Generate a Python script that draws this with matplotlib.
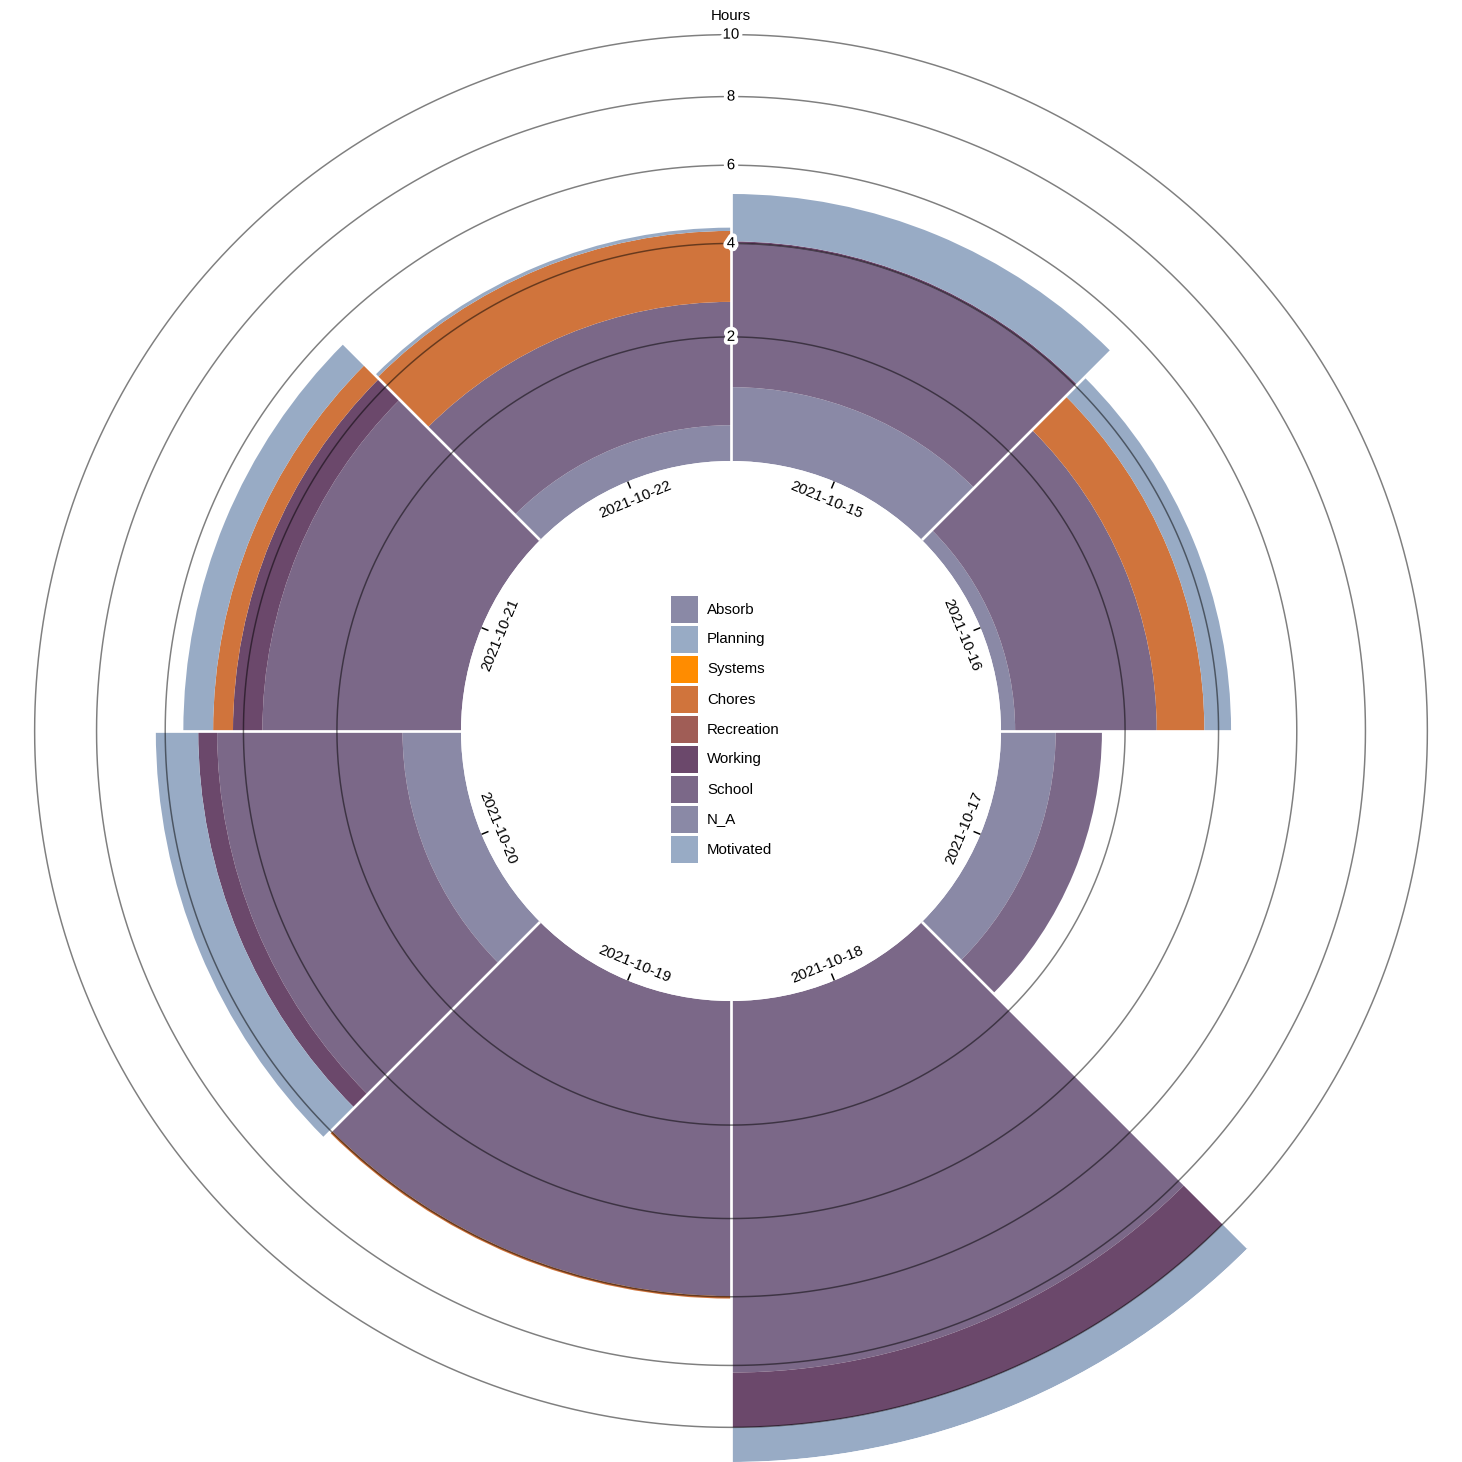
import numpy as np
import matplotlib
matplotlib.use('Agg')
import matplotlib.pyplot as plt
import matplotlib.patheffects as pe
from matplotlib.patches import Rectangle

plt.rcParams['font.family'] = ['Liberation Sans', 'DejaVu Sans']

# Datos: horas por dia, capas apiladas desde el centro hacia afuera
dias = ['2021-10-15', '2021-10-16', '2021-10-17', '2021-10-18',
        '2021-10-19', '2021-10-20', '2021-10-21', '2021-10-22']
claves = ['Motivated', 'N_A', 'School', 'Working', 'Recreation',
          'Chores', 'Systems', 'Planning', 'Absorb']
motivated = [0, 0, 0, 0, 0, 0, 0, 0]
n_a = [1.10, 0.19, 0.79, 0, 0, 0.85, 0, 0.50]
school = [2.90, 2.44, 0.78, 8.22, 5.98, 3.79, 3.56, 2.20]
working = [0.05, 0, 0, 1.79, 0, 0.48, 0.69, 0]
recreation = [0, 0, 0, 0, 0, 0, 0, 0]
chores = [0, 1.04, 0, 0, 0.07, 0, 0.49, 1.60]
systems = [0, 0, 0, 0, 0, 0, 0, 0]
planning = [1.18, 0.63, 0, 1.19, 0, 1.14, 0.77, 0.08]
absorb = [0, 0, 0, 0, 0, 0, 0, 0]
colores = ['#98abc5', '#8a89a6', '#7b6888', '#6b486b', '#a05d56',
           '#d0743c', '#ff8c00', '#98abc5', '#8a89a6']
ticks_r = [2, 4, 6, 8, 10]

capas = [motivated, n_a, school, working, recreation, chores, systems, planning, absorb]
total = np.sum(capas, axis=0)
vmax = total.max()

W = 1462
R_in = 270      # radio interior en pixeles
R_out = W / 2   # radio exterior
px = 72 / 100   # puntos por pixel

# escala radial tipo d3.scaleRadial con hueco interior
c = vmax * R_in**2 / (R_out**2 - R_in**2)

def fwd(v):
    return np.sqrt(np.clip(np.asarray(v, dtype=float) + c, 0, None))

def inv(r):
    return np.asarray(r, dtype=float)**2 - c

def r_px(p):
    # valor de datos que queda a p pixeles del centro
    return float(inv(p / R_out * fwd(vmax)))

fig = plt.figure(figsize=(W / 100, W / 100), dpi=100)
ax = fig.add_axes([0, 0, 1, 1], projection='polar')
ax.set_theta_zero_location('N')
ax.set_theta_direction(-1)
ax.set_rscale('function', functions=(fwd, inv))
ax.set_ylim(0, vmax)
ax.set_rorigin(-c)
ax.set_axis_off()

n = len(dias)
ancho = 2 * np.pi / n
theta = np.arange(n) * ancho

abajo = np.zeros(n)
for valores, color in zip(capas, colores):
    ax.bar(theta, valores, width=ancho, bottom=abajo, align='edge',
           color=color, linewidth=0, zorder=1)
    abajo = abajo + np.array(valores)

# separacion blanca entre sectores
for t in theta:
    ax.plot([t, t], [r_px(R_in - 1), vmax], color='white', lw=2.7 * px,
            solid_capstyle='butt', zorder=2)

# circulos del eje radial
tt = np.linspace(0, 2 * np.pi, 721)
for v in ticks_r:
    ax.plot(tt, np.full_like(tt, v), color='black', alpha=0.5, lw=1.5 * px, zorder=3)
    ax.text(0, v, str(v), ha='center', va='center', fontsize=15 * px, zorder=5,
            path_effects=[pe.withStroke(linewidth=7.5 * px, foreground='white')])

ax.annotate('Hours', xy=(0, ticks_r[-1]), xytext=(0, 15 * px), textcoords='offset points',
            ha='center', va='baseline', fontsize=15 * px)

# etiquetas de los dias
for i, dia in enumerate(dias):
    ang = theta[i] + ancho / 2
    grados = np.degrees(ang)
    u = np.array([np.sin(ang), np.cos(ang)])
    ax.plot([ang, ang], [r_px(R_in - 7.5), r_px(R_in)], color='black', lw=1.5 * px,
            solid_capstyle='butt', zorder=4, clip_on=False)
    if (grados + 90) % 360 < 180:
        off = -24 * u
        rot = -grados
    else:
        off = -13.5 * u
        rot = 180 - grados
    ax.annotate(dia, xy=(ang, 0), xytext=tuple(off * px), textcoords='offset points',
                rotation=rot, rotation_mode='anchor', ha='center', va='baseline',
                fontsize=15 * px)

# leyenda en el centro
color_de = dict(zip(claves, colores))
for i, clave in enumerate(claves[::-1]):
    y_top = W / 2 + (i - len(claves) / 2) * 30
    fig.add_artist(Rectangle((671 / W, 1 - (y_top + 27) / W), 27 / W, 27 / W,
                             transform=fig.transFigure, color=color_de[clave], lw=0))
    fig.text(707 / W, 1 - (y_top + 13.5) / W, clave, va='center', fontsize=15 * px)

fig.savefig('out.png', dpi=100)
